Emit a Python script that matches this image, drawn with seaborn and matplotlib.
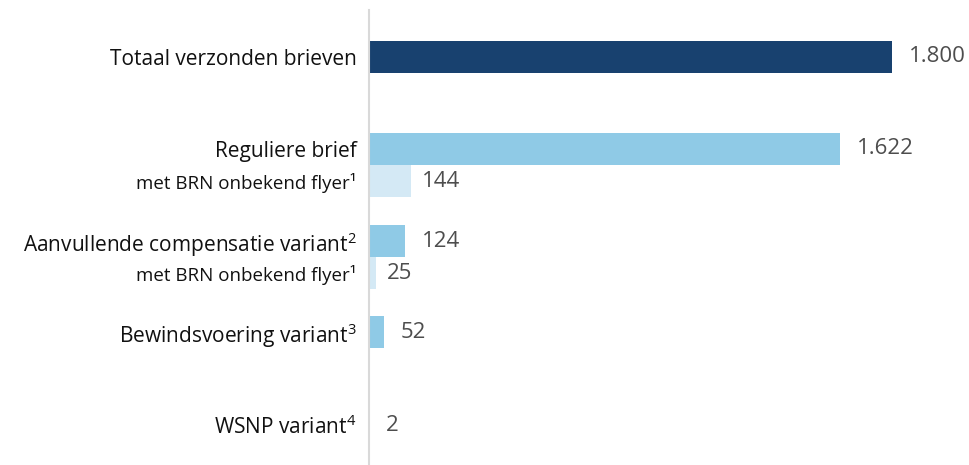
import matplotlib
matplotlib.use("Agg")
import matplotlib.pyplot as plt
import seaborn as sns
import pandas as pd

# ---- data ----
categories = [
    "Totaal verzonden brieven",
    "Reguliere brief",
    "met BRN onbekend flyer¹",
    "Aanvullende compensatie variant",
    "met BRN onbekend flyer¹",
    "Bewindsvoering variant",
    "WSNP variant",
]
footnotes = ["", "", "", "2", "", "3", "4"]
values = [1800, 1622, 144, 124, 25, 52, 2]
levels = ["total", "main", "sub", "main", "sub", "main", "main"]
# row positions (layout)
row_pos = [0, 2.875, 3.875, 5.75, 6.75, 8.6, 11.5]

palette = {"total": "#18416f", "main": "#8fcae6", "sub": "#d4e9f5"}

sns.set_style("white")
plt.rcParams["font.family"] = ["Open Sans", "DejaVu Sans"]
plt.rcParams["mathtext.fontset"] = "custom"
plt.rcParams["mathtext.rm"] = "Open Sans"
plt.rcParams["mathtext.it"] = "Open Sans:italic"

df = pd.DataFrame({"pos": row_pos, "value": values, "level": levels})

fig = plt.figure(figsize=(9.69, 4.65), dpi=100)
W, H = 969, 465
ax = fig.add_axes([369 / W, 0, 600 / W, (H - 10) / H])

sns.barplot(data=df, x="value", y="pos", hue="level", palette=palette,
            orient="h", native_scale=True, dodge=False, width=1.0,
            saturation=1, legend=False, ax=ax, linewidth=0)

ax.set_xlim(0, 1800 * 600 / 523)
ax.set_ylim((H - 57) / 32, -(57 - 10) / 32)

for s in ["top", "right", "bottom"]:
    ax.spines[s].set_visible(False)
ax.spines["left"].set_color("#d9d9d9")
ax.spines["left"].set_linewidth(1.5)
ax.set_xticks([])
ax.set_xlabel("")
ax.set_ylabel("")

labels = []
for c, f in zip(categories, footnotes):
    labels.append(c + (r"$^{\mathit{%s}}$" % f if f else ""))
ax.set_yticks(row_pos)
ax.set_yticklabels(labels)
ax.tick_params(axis="y", length=0, pad=9)
for t, lev in zip(ax.get_yticklabels(), levels):
    t.set_fontsize(13.5 if lev == "sub" else 15)
    t.set_color("#111111")


def fmt(v):
    return f"{v:,}".replace(",", ".")


for v, p, lev in zip(values, row_pos, levels):
    gap = 8 if lev == "sub" else 12
    ax.annotate(fmt(v), xy=(v, p), xytext=(gap, 0), textcoords="offset points",
                va="center", ha="left", fontsize=16, color="#4d4d4d")

fig.savefig("out.png", dpi=100)
